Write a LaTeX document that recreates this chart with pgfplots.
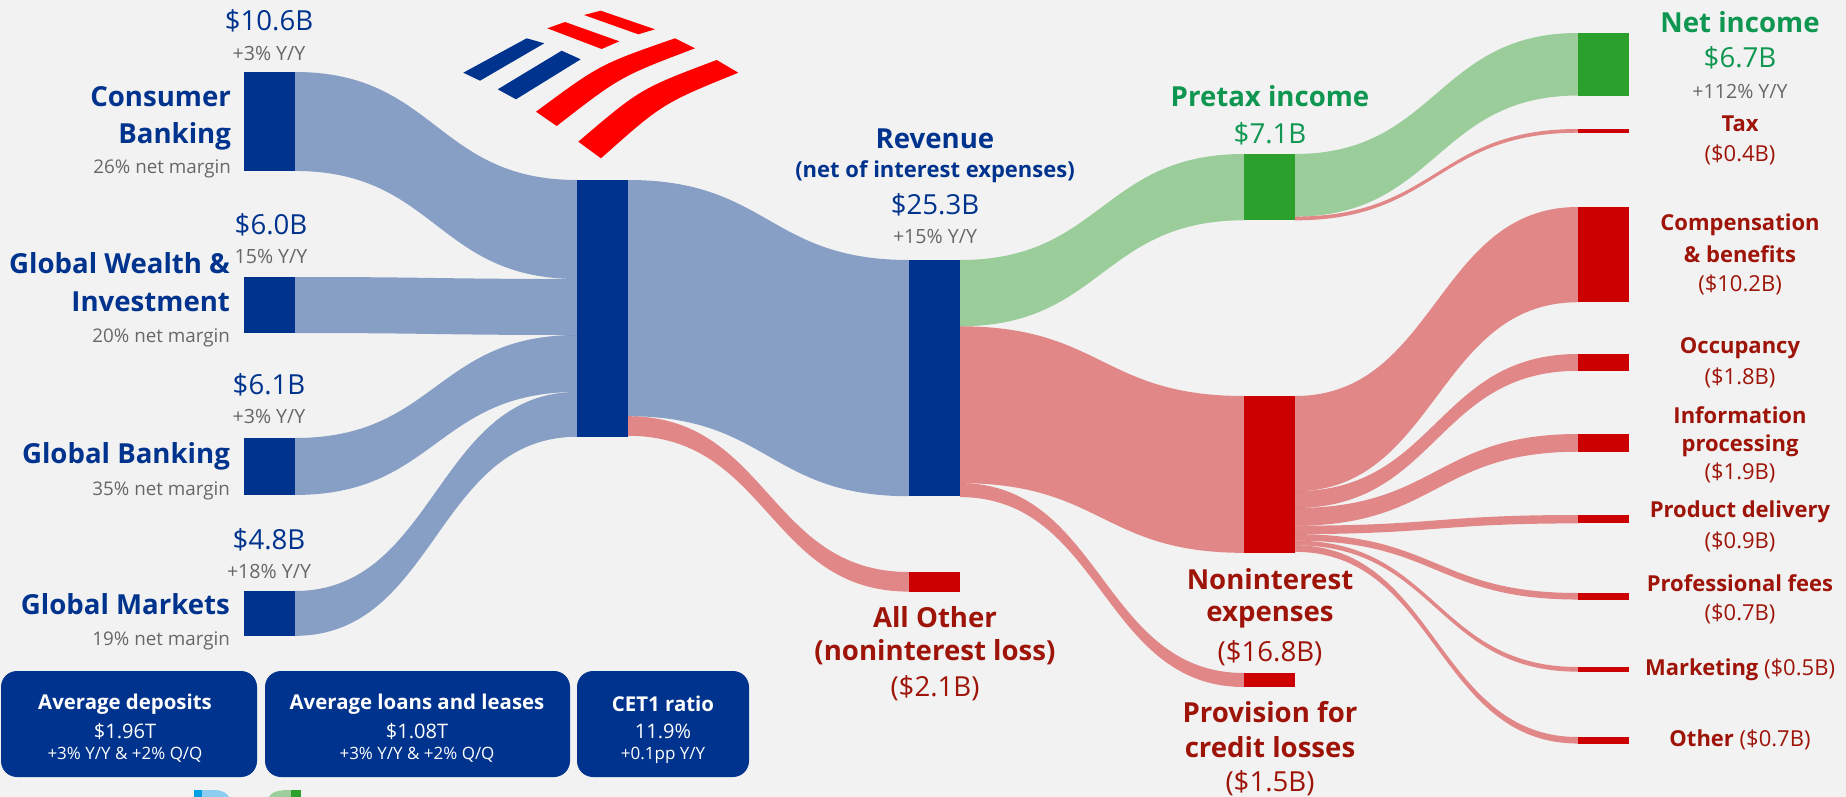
\documentclass[border=0pt]{standalone}
\usepackage{fontspec}
\setmainfont{Open Sans}
\usepackage{pgfplots}
\pgfplotsset{compat=1.18}

\definecolor{bg}{HTML}{F2F2F2}
\definecolor{nblue}{HTML}{00338D}
\definecolor{ngreen}{HTML}{2CA02C}
\definecolor{nred}{HTML}{CC0000}
\definecolor{tgreen}{HTML}{0F9650}
\definecolor{tred}{HTML}{9E1409}
\definecolor{tgray}{HTML}{676767}
\definecolor{logored}{HTML}{FF0000}
\definecolor{lblue}{HTML}{8CCDF0}
\definecolor{sblue}{HTML}{00A0E6}
\definecolor{lgreen}{HTML}{9BCE9B}

% px per $B, node width
\def\s{9.336}
\def\nw{51}

% band from (x1,y1 top) to (x2,y2 top) carrying #5 billions
\newcommand{\flow}[6]{%
  \fill[#6, opacity=0.44] (axis cs:#1,#2)
    .. controls (axis cs:{(#1+#3)/2},#2) and (axis cs:{(#1+#3)/2},#4) .. (axis cs:#3,#4)
    -- (axis cs:#3,{#4+#5*\s})
    .. controls (axis cs:{(#1+#3)/2},{#4+#5*\s}) and (axis cs:{(#1+#3)/2},{#2+#5*\s}) .. (axis cs:#1,{#2+#5*\s})
    -- cycle;}
\newcommand{\nd}[4]{\fill[#4] (axis cs:#1,#2) rectangle (axis cs:{#1+\nw},{#2+#3*\s});}

\newcommand\fbig{\fontsize{13.8}{16}\selectfont\bfseries}
\newcommand\fval{\fontsize{13.8}{16}\selectfont}
\newcommand\fsm{\fontsize{11}{13}\selectfont\bfseries}
\newcommand\fsv{\fontsize{11}{13}\selectfont}
\newcommand\fyy{\fontsize{9.8}{12}\selectfont}
\newcommand\fnm{\fontsize{9.4}{12}\selectfont}

\begin{document}
\begin{tikzpicture}
\begin{axis}[
  width=923pt, height=398.5pt, scale only axis,
  xmin=0, xmax=1846, ymin=0, ymax=797, y dir=reverse,
  hide axis, clip=false,
  every node/.style={anchor=base, inner sep=0pt},
]
\fill[bg] (axis cs:0,0) rectangle (axis cs:1846,797);

% logo
\fill[nblue] (axis cs:463.3,72.7) -- (axis cs:526.7,38.3) -- (axis cs:544.3,43.3) -- (axis cs:480,80.7) -- cycle;
\fill[nblue] (axis cs:497.7,89.3) -- (axis cs:561.7,50.7) -- (axis cs:580.7,59.3) -- (axis cs:516,99.3) -- cycle;
\fill[logored] (axis cs:584,15) -- (axis cs:600.7,10.7) -- (axis cs:655,29.3) -- (axis cs:638.3,34.3) -- cycle;
\fill[logored] (axis cs:547.3,28.3) -- (axis cs:565,22) -- (axis cs:619.3,41.3) -- (axis cs:601.7,49) -- cycle;
\fill[logored] (axis cs:536,111.7) .. controls (axis cs:599.9,64.4) .. (axis cs:675,38.3) -- (axis cs:695,48.3) .. controls (axis cs:620.3,76.6) .. (axis cs:556.7,126) -- cycle;
\fill[logored] (axis cs:578.3,141.7) .. controls (axis cs:640.4,88.7) .. (axis cs:716.7,60) -- (axis cs:738.3,72.7) .. controls (axis cs:662.6,103.4) .. (axis cs:601,158.3) -- cycle;

% flows: segments -> hub
\flow{295}{72}{577}{180}{10.6}{nblue}
\flow{295}{277}{577}{279}{6.0}{nblue}
\flow{295}{438}{577}{335}{6.1}{nblue}
\flow{295}{591}{577}{392}{4.8}{nblue}
% hub -> revenue, all other
\flow{628}{180}{909}{260}{25.3}{nblue}
\flow{628}{416.2}{909}{572}{2.1}{nred}
% revenue -> pretax, noninterest, provision
\flow{960}{260}{1244}{154}{7.1}{ngreen}
\flow{960}{326.3}{1244}{396}{16.8}{nred}
\flow{960}{483.1}{1244}{673}{1.5}{nred}
% pretax -> net income, tax
\flow{1295}{154}{1578}{33}{6.7}{ngreen}
\flow{1295}{216.6}{1578}{129}{0.4}{nred}
% noninterest -> items
\flow{1295}{396}{1578}{207}{10.2}{nred}
\flow{1295}{491.2}{1578}{354}{1.8}{nred}
\flow{1295}{508.0}{1578}{434}{1.9}{nred}
\flow{1295}{525.7}{1578}{515}{0.9}{nred}
\flow{1295}{534.1}{1578}{593}{0.7}{nred}
\flow{1295}{540.6}{1578}{667}{0.5}{nred}
\flow{1295}{545.3}{1578}{737}{0.7}{nred}

% nodes
\nd{244}{72}{10.6}{nblue}
\nd{244}{277}{6.0}{nblue}
\nd{244}{438}{6.1}{nblue}
\nd{244}{591}{4.8}{nblue}
\nd{577}{180}{27.5}{nblue}
\nd{909}{260}{25.3}{nblue}
\nd{909}{572}{2.1}{nred}
\nd{1244}{154}{7.1}{ngreen}
\nd{1244}{396}{16.8}{nred}
\nd{1244}{673}{1.5}{nred}
\nd{1578}{33}{6.7}{ngreen}
\nd{1578}{129}{0.4}{nred}
\nd{1578}{207}{10.2}{nred}
\nd{1578}{354}{1.8}{nred}
\nd{1578}{434}{1.9}{nred}
\nd{1578}{515}{0.9}{nred}
\nd{1578}{593}{0.7}{nred}
\nd{1578}{667}{0.5}{nred}
\nd{1578}{737}{0.7}{nred}

% left labels
\node[text=nblue, font=\fval] at (axis cs:269,21) {\$10.6B};
\node[text=tgray, font=\fyy] at (axis cs:269,53) {+3\% Y/Y};
\node[anchor=base east, text=nblue, font=\fbig] at (axis cs:238,106) {Consumer};
\node[anchor=base east, text=nblue, font=\fbig] at (axis cs:238,143) {Banking};
\node[anchor=base east, text=tgray, font=\fnm] at (axis cs:238,173) {26\% net margin};

\node[text=nblue, font=\fval] at (axis cs:271,225) {\$6.0B};
\node[text=tgray, font=\fyy] at (axis cs:271,256) {15\% Y/Y};
\node[anchor=base east, text=nblue, font=\fbig] at (axis cs:237,273) {Global Wealth \&};
\node[anchor=base east, text=nblue, font=\fbig] at (axis cs:237,311) {Investment};
\node[anchor=base east, text=tgray, font=\fnm] at (axis cs:237,342) {20\% net margin};

\node[text=nblue, font=\fval] at (axis cs:269,385) {\$6.1B};
\node[text=tgray, font=\fyy] at (axis cs:269,416) {+3\% Y/Y};
\node[anchor=base east, text=nblue, font=\fbig] at (axis cs:237,463) {Global Banking};
\node[anchor=base east, text=tgray, font=\fnm] at (axis cs:237,495) {35\% net margin};

\node[text=nblue, font=\fval] at (axis cs:269,540) {\$4.8B};
\node[text=tgray, font=\fyy] at (axis cs:269,571) {+18\% Y/Y};
\node[anchor=base east, text=nblue, font=\fbig] at (axis cs:237,614) {Global Markets};
\node[anchor=base east, text=tgray, font=\fnm] at (axis cs:237,645) {19\% net margin};

% middle labels
\node[text=nblue, font=\fbig] at (axis cs:935,139) {Revenue};
\node[text=nblue, font=\fsm] at (axis cs:935,172) {(net of interest expenses)};
\node[text=nblue, font=\fval] at (axis cs:935,205) {\$25.3B};
\node[text=tgray, font=\fyy] at (axis cs:935,236) {+15\% Y/Y};

\node[text=tgreen, font=\fbig] at (axis cs:1270,96) {Pretax income};
\node[text=tgreen, font=\fval] at (axis cs:1270,134) {\$7.1B};

\node[text=tred, font=\fbig] at (axis cs:935,617) {All Other};
\node[text=tred, font=\fbig] at (axis cs:935,652) {(noninterest loss)};
\node[text=tred, font=\fval] at (axis cs:935,688) {(\$2.1B)};

\node[text=tred, font=\fbig] at (axis cs:1270,579) {Noninterest};
\node[text=tred, font=\fbig] at (axis cs:1270,617) {expenses};
\node[text=tred, font=\fval] at (axis cs:1270,653) {(\$16.8B)};

\node[text=tred, font=\fbig] at (axis cs:1270,712) {Provision for};
\node[text=tred, font=\fbig] at (axis cs:1270,747) {credit losses};
\node[text=tred, font=\fval] at (axis cs:1270,783) {(\$1.5B)};

% right labels
\node[text=tgreen, font=\fbig] at (axis cs:1740,22) {Net income};
\node[text=tgreen, font=\fval] at (axis cs:1740,58) {\$6.7B};
\node[text=tgray, font=\fyy] at (axis cs:1740,91) {+112\% Y/Y};
\node[text=tred, font=\fsm] at (axis cs:1740,124) {Tax};
\node[text=tred, font=\fsv] at (axis cs:1740,155) {(\$0.4B)};
\node[text=tred, font=\fsm] at (axis cs:1740,225) {Compensation};
\node[text=tred, font=\fsm] at (axis cs:1740,254) {\& benefits};
\node[text=tred, font=\fsv] at (axis cs:1740,285) {(\$10.2B)};
\node[text=tred, font=\fsm] at (axis cs:1740,348) {Occupancy};
\node[text=tred, font=\fsv] at (axis cs:1740,378) {(\$1.8B)};
\node[text=tred, font=\fsm] at (axis cs:1740,415) {Information};
\node[text=tred, font=\fsm] at (axis cs:1740,446) {processing};
\node[text=tred, font=\fsv] at (axis cs:1740,473) {(\$1.9B)};
\node[text=tred, font=\fsm] at (axis cs:1740,512) {Product delivery};
\node[text=tred, font=\fsv] at (axis cs:1740,542) {(\$0.9B)};
\node[text=tred, font=\fsm] at (axis cs:1740,583) {Professional fees};
\node[text=tred, font=\fsv] at (axis cs:1740,614) {(\$0.7B)};
\node[text=tred, font=\fsv] at (axis cs:1740,670) {{\bfseries Marketing} (\$0.5B)};
\node[text=tred, font=\fsv] at (axis cs:1740,740) {{\bfseries Other} (\$0.7B)};

% key figure boxes
\fill[nblue, rounded corners=8pt] (axis cs:1,671) rectangle (axis cs:257,777);
\fill[nblue, rounded corners=8pt] (axis cs:265,671) rectangle (axis cs:570,777);
\fill[nblue, rounded corners=8pt] (axis cs:577,671) rectangle (axis cs:749,777);
\node[text=white, font=\fontsize{10.2}{12}\selectfont\bfseries] at (axis cs:125,704) {Average deposits};
\node[text=white, font=\fontsize{10}{12}\selectfont] at (axis cs:125,731) {\$1.96T};
\node[text=white, font=\fontsize{8.5}{10}\selectfont] at (axis cs:125,755) {+3\% Y/Y \& +2\% Q/Q};
\node[text=white, font=\fontsize{10.2}{12}\selectfont\bfseries] at (axis cs:417,704) {Average loans and leases};
\node[text=white, font=\fontsize{10}{12}\selectfont] at (axis cs:417,731) {\$1.08T};
\node[text=white, font=\fontsize{8.5}{10}\selectfont] at (axis cs:417,755) {+3\% Y/Y \& +2\% Q/Q};
\node[text=white, font=\fontsize{10.2}{12}\selectfont\bfseries] at (axis cs:663,704) {CET1 ratio};
\node[text=white, font=\fontsize{10}{12}\selectfont] at (axis cs:663,731) {11.9\%};
\node[text=white, font=\fontsize{8.5}{10}\selectfont] at (axis cs:663,755) {+0.1pp Y/Y};

% cut-off mark at the bottom edge
\fill[sblue] (axis cs:194,790) rectangle (axis cs:202,797);
\fill[lblue] (axis cs:202,797) -- (axis cs:202,790) -- (axis cs:214,790) .. controls (axis cs:222,790) and (axis cs:227,793) .. (axis cs:229,797) -- cycle;
\fill[lgreen] (axis cs:269,797) .. controls (axis cs:271,792) and (axis cs:279,790) .. (axis cs:289,790) -- (axis cs:291,790) -- (axis cs:291,797) -- cycle;
\fill[ngreen] (axis cs:291,790) rectangle (axis cs:301,797);
\end{axis}
\pgfresetboundingbox
\path[use as bounding box] (current axis.south west) rectangle (current axis.north east);
\end{tikzpicture}
\end{document}
